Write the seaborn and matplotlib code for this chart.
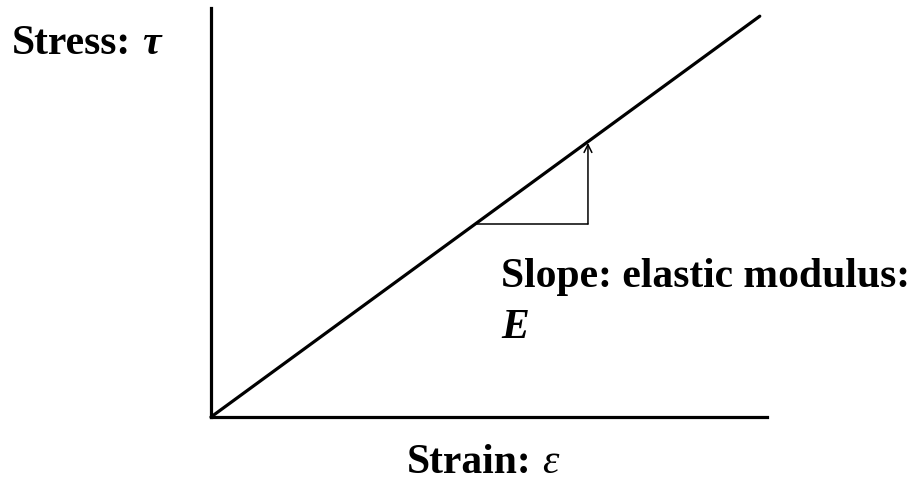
import matplotlib
matplotlib.use("Agg")
import matplotlib.pyplot as plt
import seaborn as sns
import pandas as pd

# Data (arbitrary units; axes span 0..1)
strain = [0.0, 0.987]
stress = [0.0, 0.980]
tri_x = [0.478, 0.678]     # horizontal leg of slope triangle
tri_y0 = 0.472             # level of horizontal leg
tri_y1 = 0.670             # arrow tip (on the line)
x_label = ("Strain:", "ε")
y_label = ("Stress:", "τ")
slope_label = "Slope: elastic modulus:"
slope_symbol = "E"

sns.set_theme(style="white")
plt.rcParams["font.family"] = ["Liberation Serif", "DejaVu Serif"]

W, H = 921, 493
fig = plt.figure(figsize=(W / 100, H / 100), dpi=100)
ax = fig.add_axes([211 / W, 1 - 417 / H, 556 / W, 409 / H])

df = pd.DataFrame({"strain": strain, "stress": stress})
sns.lineplot(data=df, x="strain", y="stress", ax=ax, color="black",
             linewidth=2.3, clip_on=False)
# slope triangle
ax.plot(tri_x, [tri_y0, tri_y0], color="black", linewidth=1.1)
ax.annotate("", xy=(tri_x[1], tri_y1), xytext=(tri_x[1], tri_y0),
            arrowprops=dict(arrowstyle="->", color="black", lw=1.1,
                            mutation_scale=14, shrinkA=0, shrinkB=0))

ax.set_xlim(0, 1)
ax.set_ylim(0, 1)
ax.set_xticks([])
ax.set_yticks([])
ax.set_xlabel("")
ax.set_ylabel("")
sns.despine(ax=ax, top=True, right=True)
for s in ["left", "bottom"]:
    ax.spines[s].set_linewidth(2.3)
    ax.spines[s].set_color("black")

FS = 30


def ftxt(xpx, ypx, s, **kw):
    return fig.text(xpx / W, 1 - ypx / H, s, fontsize=FS, va="baseline",
                    ha="left", color="black", **kw)


renderer = fig.canvas.get_renderer()


def pair(xpx, ypx, a, b, bstyle="italic", bweight="bold"):
    t = ftxt(xpx, ypx, a, fontweight="bold")
    bb = t.get_window_extent(renderer)
    space = FS * 100 / 72 * 0.25
    ftxt(bb.x1 + space, ypx, b, fontweight=bweight, fontstyle=bstyle)


pair(12, 54, *y_label)
pair(407, 473, *x_label, bweight="normal")
ftxt(501, 287, slope_label, fontweight="bold")
ftxt(501, 338, slope_symbol, fontweight="bold", fontstyle="italic")

fig.savefig("out.png", dpi=100, facecolor="white")
